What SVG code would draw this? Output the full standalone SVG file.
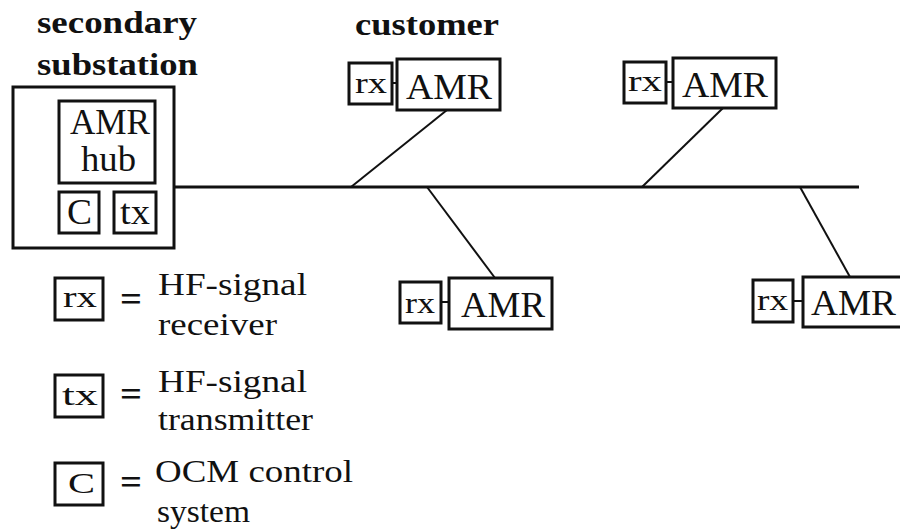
<svg xmlns="http://www.w3.org/2000/svg" width="900" height="530" viewBox="0 0 900 530">
<style>
.box{fill:#fff;stroke:#111;stroke-width:3}
.ln{stroke:#111;stroke-width:2;fill:none}
.bus{stroke:#111;stroke-width:3;fill:none}
text{font-family:"Times New Roman","Liberation Serif",Times,serif;fill:#111}
.title{font-weight:bold;font-size:31px}
.amr{font-size:36px}
.rx{font-size:29px}
.leg{font-size:31px}
</style>
<rect width="900" height="530" fill="#fff"/>
<g id="titles">
<text class="title" x="37" y="33" textLength="160" lengthAdjust="spacingAndGlyphs">secondary</text>
<text class="title" x="37" y="75" textLength="161" lengthAdjust="spacingAndGlyphs">substation</text>
<text class="title" x="355" y="35" textLength="144" lengthAdjust="spacingAndGlyphs">customer</text>
</g>
<g id="connectors">
<line class="bus" x1="172" y1="187" x2="859" y2="187"/>
<line class="ln" x1="156" y1="150" x2="172" y2="187" style="stroke-width:1.5"/>
<line class="ln" x1="156" y1="209" x2="172" y2="187" style="stroke-width:1.5"/>
<line class="ln" x1="80" y1="183" x2="80" y2="192"/>
<line class="ln" x1="99" y1="211" x2="114" y2="211" style="stroke-width:3"/>
<line class="ln" x1="447" y1="110" x2="351" y2="187"/>
<line class="ln" x1="427" y1="187" x2="495" y2="278"/>
<line class="ln" x1="723" y1="108" x2="642" y2="187"/>
<line class="ln" x1="800" y1="187" x2="850" y2="277"/>
<line class="ln" x1="392" y1="83" x2="397" y2="83"/>
<line class="ln" x1="666" y1="82" x2="673" y2="82"/>
<line class="ln" x1="441" y1="302" x2="449" y2="302"/>
<line class="ln" x1="793" y1="301" x2="803" y2="301"/>
</g>
<g id="substation">
<rect class="box" x="13" y="87" width="161" height="161"/>
</g>
<g id="amr-hub">
<rect class="box" x="59" y="101" width="96" height="82"/>
<text class="amr" x="70" y="134" textLength="80" lengthAdjust="spacingAndGlyphs">AMR</text>
<text class="amr" x="81" y="171" textLength="55" lengthAdjust="spacingAndGlyphs">hub</text>
</g>
<g id="c-box">
<rect class="box" x="59" y="192" width="40" height="41"/>
<text class="amr" x="67" y="224" textLength="25" lengthAdjust="spacingAndGlyphs">C</text>
</g>
<g id="tx-box">
<rect class="box" x="114" y="192" width="42" height="41"/>
<text class="amr" x="120" y="224" textLength="30" lengthAdjust="spacingAndGlyphs">tx</text>
</g>
<g id="customer1">
<rect class="box" x="349" y="63" width="43" height="41"/>
<text class="rx" x="355" y="93" textLength="32" lengthAdjust="spacingAndGlyphs">rx</text>
<rect class="box" x="397" y="59" width="103" height="51"/>
<text class="amr" x="406" y="99" textLength="86" lengthAdjust="spacingAndGlyphs">AMR</text>
</g>
<g id="customer2">
<rect class="box" x="400" y="282" width="41" height="41"/>
<text class="rx" x="405" y="313" textLength="30" lengthAdjust="spacingAndGlyphs">rx</text>
<rect class="box" x="449" y="278" width="103" height="51"/>
<text class="amr" x="461" y="317" textLength="84" lengthAdjust="spacingAndGlyphs">AMR</text>
</g>
<g id="customer3">
<rect class="box" x="624" y="62" width="42" height="41"/>
<text class="rx" x="628" y="91" textLength="34" lengthAdjust="spacingAndGlyphs">rx</text>
<rect class="box" x="673" y="58" width="103" height="50"/>
<text class="amr" x="682" y="97" textLength="86" lengthAdjust="spacingAndGlyphs">AMR</text>
</g>
<g id="customer4">
<rect class="box" x="753" y="280" width="40" height="42"/>
<text class="rx" x="757" y="310" textLength="31" lengthAdjust="spacingAndGlyphs">rx</text>
<rect class="box" x="803" y="277" width="104" height="50"/>
<text class="amr" x="811" y="315" textLength="85" lengthAdjust="spacingAndGlyphs">AMR</text>
</g>
<g id="legend-rx">
<rect class="box" x="55" y="278" width="48" height="42"/>
<text class="rx" x="63" y="307" textLength="34" lengthAdjust="spacingAndGlyphs">rx</text>
<text x="120" y="311" font-size="36" font-weight="bold" textLength="22" lengthAdjust="spacingAndGlyphs">=</text>
<text class="leg" x="158" y="295" textLength="149" lengthAdjust="spacingAndGlyphs">HF-signal</text>
<text class="leg" x="158" y="335" textLength="119" lengthAdjust="spacingAndGlyphs">receiver</text>
</g>
<g id="legend-tx">
<rect class="box" x="55" y="375" width="48" height="42"/>
<text class="rx" x="62" y="405" textLength="36" lengthAdjust="spacingAndGlyphs">tx</text>
<text x="120" y="406" font-size="36" font-weight="bold" textLength="22" lengthAdjust="spacingAndGlyphs">=</text>
<text class="leg" x="158" y="392" textLength="149" lengthAdjust="spacingAndGlyphs">HF-signal</text>
<text class="leg" x="158" y="430" textLength="155" lengthAdjust="spacingAndGlyphs">transmitter</text>
</g>
<g id="legend-c">
<rect class="box" x="55" y="463" width="48" height="42"/>
<text class="rx" x="68" y="493" textLength="27" lengthAdjust="spacingAndGlyphs">C</text>
<text x="120" y="494" font-size="36" font-weight="bold" textLength="22" lengthAdjust="spacingAndGlyphs">=</text>
<text class="leg" x="155" y="482" textLength="198" lengthAdjust="spacingAndGlyphs">OCM control</text>
<text class="leg" x="157" y="522" textLength="93" lengthAdjust="spacingAndGlyphs">system</text>
</g>
</svg>
